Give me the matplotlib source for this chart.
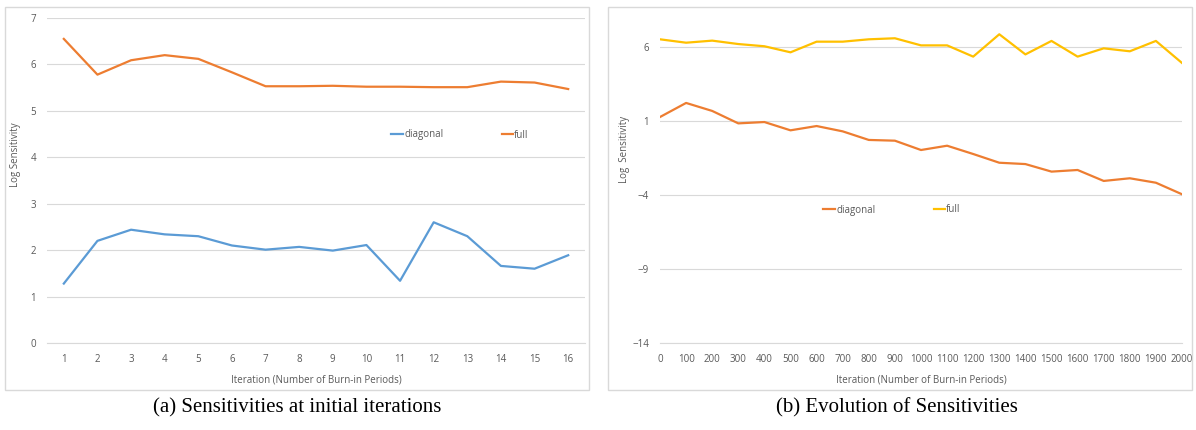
import matplotlib
matplotlib.use("Agg")
import matplotlib.pyplot as plt
from matplotlib.patches import Rectangle

# (a) initial iterations
iters_a = list(range(1, 17))
diag_a = [1.28, 2.20, 2.44, 2.34, 2.30, 2.10, 2.01, 2.07, 1.99, 2.11, 1.34, 2.60, 2.30, 1.66, 1.60, 1.89]
full_a = [6.55, 5.78, 6.09, 6.20, 6.12, 5.83, 5.53, 5.53, 5.54, 5.52, 5.52, 5.51, 5.51, 5.63, 5.61, 5.47]

# (b) evolution
iters_b = list(range(0, 2001, 100))
diag_b = [1.27, 2.22, 1.68, 0.84, 0.93, 0.37, 0.66, 0.30, -0.28, -0.33, -0.96,
          -0.67, -1.23, -1.82, -1.91, -2.42, -2.31, -3.05, -2.87, -3.17, -3.95]
full_b = [6.52, 6.29, 6.43, 6.20, 6.05, 5.64, 6.36, 6.36, 6.52, 6.59, 6.11,
          6.11, 5.35, 6.86, 5.50, 6.41, 5.35, 5.91, 5.71, 6.41, 4.92]

W, H = 1196, 430
gray = "#595959"
grid = "#d9d9d9"
plt.rcParams['font.family'] = ['Open Sans', 'DejaVu Sans']

fig = plt.figure(figsize=(W / 100, H / 100), dpi=100)

def px(x0, y0, x1, y1):
    return [x0 / W, 1 - y1 / H, (x1 - x0) / W, (y1 - y0) / H]

# chart frames
for x0, x1 in [(5, 589), (608, 1192)]:
    fig.patches.append(Rectangle((x0 / W, 1 - 390 / H), (x1 - x0) / W, 383 / H,
                                 transform=fig.transFigure, fill=False,
                                 edgecolor=grid, linewidth=1))

def style(ax):
    for s in ["top", "right", "left"]:
        ax.spines[s].set_visible(False)
    ax.spines["bottom"].set_color(grid)
    ax.grid(axis="y", color=grid, linewidth=0.8)
    ax.set_axisbelow(True)
    ax.tick_params(length=0, labelsize=7, colors=gray, pad=8)
    ax.set_xlabel("Iteration (Number of Burn-in Periods)", fontsize=7, color=gray, labelpad=7)

ax1 = fig.add_axes(px(47, 18, 585, 343))
ax1.plot(iters_a, diag_a, color="#5B9BD5", lw=1.6, label="diagonal")
ax1.plot(iters_a, full_a, color="#ED7D31", lw=1.6, label="full")
ax1.set_xlim(0.5, 16.5)
ax1.set_ylim(0, 7)
ax1.set_xticks(iters_a)
ax1.set_yticks(range(0, 8))
style(ax1)
ax1.set_ylabel("Log Sensitivity", fontsize=7, color=gray)
ax1.yaxis.set_label_coords(-0.048, 0.578)
ax1.legend(ncol=2, frameon=False, fontsize=7, labelcolor=gray, handlelength=1.2,
           handletextpad=0.1, columnspacing=6, loc="center",
           bbox_to_anchor=((460 - 47) / 538, 1 - (135 - 18) / 325))

ax2 = fig.add_axes(px(660, 17.4, 1182, 343))
ax2.plot(iters_b, diag_b, color="#ED7D31", lw=1.6, label="diagonal")
ax2.plot(iters_b, full_b, color="#FFC000", lw=1.6, label="full")
ax2.set_xlim(0, 2000)
ax2.set_ylim(-14, 8)
ax2.set_xticks(iters_b)
ax2.set_yticks([-14, -9, -4, 1, 6])
style(ax2)
ax2.set_ylabel("Log  Sensitivity", fontsize=7, color=gray)
ax2.yaxis.set_label_coords(-0.057, 0.596)
ax2.legend(ncol=2, frameon=False, fontsize=7, labelcolor=gray, handlelength=1.2,
           handletextpad=0.1, columnspacing=6, loc="center",
           bbox_to_anchor=((892 - 660) / 522, 1 - (210 - 17.4) / 325.6))

fig.text(297 / W, 1 - 408 / H, "(a) Sensitivities at initial iterations",
         family="Liberation Serif", fontsize=15, ha="center", va="center")
fig.text(897 / W, 1 - 408 / H, "(b) Evolution of Sensitivities",
         family="Liberation Serif", fontsize=15, ha="center", va="center")

fig.savefig("out.png", dpi=100)
